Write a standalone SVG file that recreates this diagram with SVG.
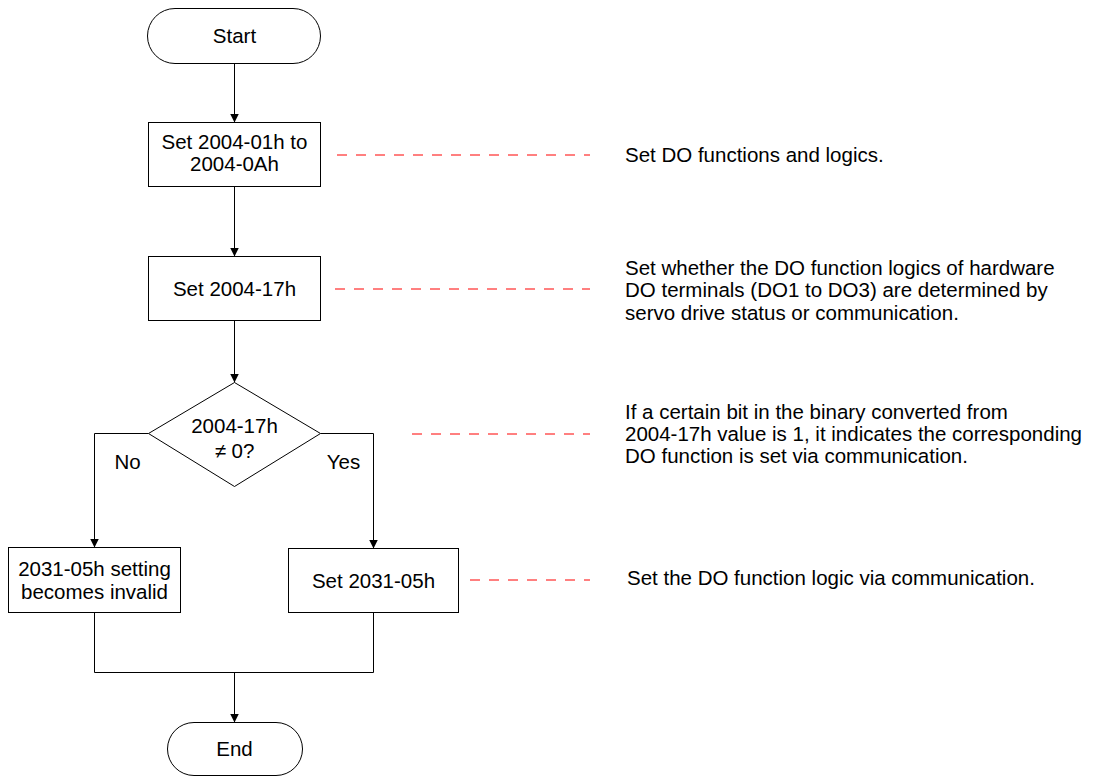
<svg xmlns="http://www.w3.org/2000/svg" width="1095" height="777" viewBox="0 0 1095 777">
<style>
.shape{fill:#fff;stroke:#000;stroke-width:1}
.t{font-family:"Liberation Sans",Arial,sans-serif;font-size:20.5px;fill:#000}
.c{text-anchor:middle}
.conn{fill:none;stroke:#000;stroke-width:1}
.dash{fill:none;stroke:#f00;stroke-width:1;stroke-dasharray:10 9}
</style>
<defs>
<marker id="arr" markerUnits="userSpaceOnUse" markerWidth="10" markerHeight="10" refX="9" refY="4.5" orient="auto">
<path d="M0,0 L9,4.5 L0,9 z" fill="#000"/>
</marker>
</defs>
<rect width="1095" height="777" fill="#fff"/>
<g id="dashes">
<line class="dash" x1="337" y1="155" x2="590" y2="155"/>
<line class="dash" x1="335" y1="289" x2="590" y2="289"/>
<line class="dash" x1="412" y1="434" x2="590" y2="434"/>
<line class="dash" x1="470" y1="580" x2="590" y2="580"/>
</g>
<g transform="translate(0.5,0.5)">
<g id="connectors">
<line class="conn" x1="234" y1="63" x2="234" y2="122" marker-end="url(#arr)"/>
<line class="conn" x1="234" y1="186" x2="234" y2="256" marker-end="url(#arr)"/>
<line class="conn" x1="234" y1="320" x2="234" y2="382" marker-end="url(#arr)"/>
<polyline class="conn" points="148,433 94,433 94,547" marker-end="url(#arr)"/>
<polyline class="conn" points="320,433 373,433 373,548" marker-end="url(#arr)"/>
<polyline class="conn" points="94,612 94,672 373,672 373,612"/>
<line class="conn" x1="234" y1="672" x2="234" y2="722" marker-end="url(#arr)"/>
<text class="t c" x="127" y="468">No</text>
<text class="t c" x="343" y="468">Yes</text>
</g>
<g id="start">
<rect class="shape" x="147" y="8" width="173" height="55" rx="27.5"/>
<text class="t c" x="234" y="42">Start</text>
</g>
<g id="set1">
<rect class="shape" x="148" y="122" width="172" height="64"/>
<text class="t c" x="234" y="148">Set 2004-01h to</text>
<text class="t c" x="234" y="170">2004-0Ah</text>
</g>
<g id="set2">
<rect class="shape" x="148" y="256" width="172" height="64"/>
<text class="t c" x="234" y="295">Set 2004-17h</text>
</g>
<g id="decision">
<polygon class="shape" points="234,382 320,433 234,486 148,433"/>
<text class="t c" x="234" y="432">2004-17h</text>
<text class="t c" x="234" y="457">≠ 0?</text>
</g>
<g id="invalid">
<rect class="shape" x="8" y="547" width="172" height="65"/>
<text class="t c" x="94" y="575">2031-05h setting</text>
<text class="t c" x="94" y="598">becomes invalid</text>
</g>
<g id="set3">
<rect class="shape" x="288" y="548" width="170" height="64"/>
<text class="t c" x="373" y="587">Set 2031-05h</text>
</g>
<g id="end">
<rect class="shape" x="167" y="722" width="135" height="53" rx="26.5"/>
<text class="t c" x="234" y="755">End</text>
</g>
</g>
<g id="notes">
<text class="t" x="625" y="162">Set DO functions and logics.</text>
<text class="t" x="625" y="275">Set whether the DO function logics of hardware</text>
<text class="t" x="625" y="297">DO terminals (DO1 to DO3) are determined by</text>
<text class="t" x="625" y="320">servo drive status or communication.</text>
<text class="t" x="625" y="419">If a certain bit in the binary converted from</text>
<text class="t" x="625" y="441">2004-17h value is 1, it indicates the corresponding</text>
<text class="t" x="625" y="463">DO function is set via communication.</text>
<text class="t" x="627" y="585">Set the DO function logic via communication.</text>
</g>
</svg>
